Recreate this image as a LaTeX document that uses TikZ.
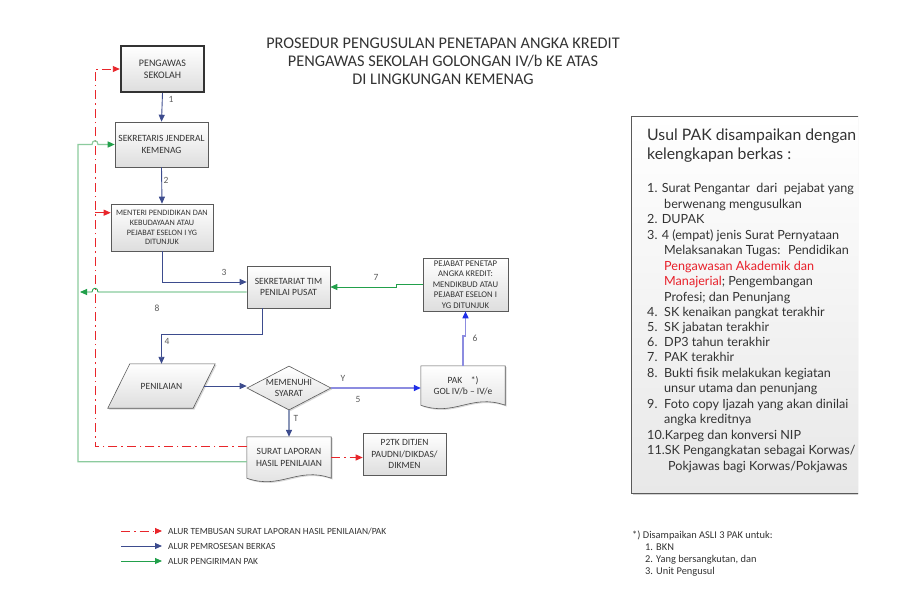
\documentclass[tikz,border=0pt]{standalone}
\usepackage{fontspec}
\setmainfont{Carlito}
\newfontfamily\panelfont{Lato}
\usetikzlibrary{arrows.meta,calc,shapes.geometric,shadows,backgrounds}
\definecolor{ProcBlue}{HTML}{3D4C8E}
\definecolor{ProcLight}{HTML}{8C8CE0}
\definecolor{ProcHead}{HTML}{1F2FE8}
\definecolor{ProcGray}{HTML}{8A96B8}
\definecolor{KirimGreen}{HTML}{22A04B}
\definecolor{KirimPale}{HTML}{8CCB9E}
\definecolor{TembusRed}{HTML}{E8262B}
\definecolor{BoxLine}{HTML}{5A5A5A}
\definecolor{TextGray}{HTML}{333333}
\definecolor{PanelRed}{HTML}{E8202A}

\tikzset{
  box/.style={draw=BoxLine, line width=0.6pt, top color=white, bottom color=black!13,
    align=center, text=TextGray, inner sep=1pt,
    drop shadow={shadow xshift=1.3pt,shadow yshift=-1.3pt,opacity=.3}},
  txtnine/.style={font=\fontsize{9.5}{11.5}\selectfont},
  txteight/.style={font=\fontsize{8.7}{10.4}\selectfont},
  txtseven/.style={font=\fontsize{8.2}{9.8}\selectfont},
  numtext/.style={font=\fontsize{9.5}{10}\selectfont, text=TextGray!80},
  titletext/.style={font=\fontsize{16.3}{18}\selectfont, align=center, text=TextGray},
  legendtext/.style={font=\fontsize{9.4}{10}\selectfont, text=TextGray, anchor=west, inner sep=0pt},
  tip/.style={-{Triangle[length=7pt,width=6pt]}},
  proses/.style={tip, draw=ProcBlue, line width=0.9pt},
  proseslight/.style={-{Triangle[length=7pt,width=6pt,color=ProcHead]}, draw=ProcLight, line width=1.5pt},
  prosesgray/.style={-{Triangle[length=7pt,width=6pt,color=ProcBlue]}, draw=ProcGray, line width=1.3pt},
  kirim/.style={tip, draw=KirimGreen, line width=0.9pt},
  kirimpale/.style={-{Triangle[length=7pt,width=6pt,color=KirimGreen]}, draw=KirimPale, line width=1.2pt},
  tembusan/.style={tip, draw=TembusRed, line width=0.9pt,
    dash pattern=on 9pt off 4pt on 1.5pt off 4pt},
  paneltext/.style={font=\panelfont\fontsize{12.6}{15}\selectfont, text=TextGray,
    anchor=west, inner sep=0pt, text height=9pt, text depth=3pt},
  panelhead/.style={paneltext, font=\panelfont\fontsize{15.8}{18}\selectfont},
}

% document shape with wavy bottom, drawn behind the node
\newcommand{\docwave}[1]{%
  \shade[box] (#1.north west) -- (#1.north east) -- (#1.south east)
    .. controls +(-34,-12) and +(34,12) .. (#1.south west) -- cycle;}

\begin{document}
\begin{tikzpicture}[x=1pt,y=-1pt]
  \useasboundingbox (0,0) rectangle (900,600);
  \begin{scope}[on background layer]
    \fill[white] (0,0) rectangle (900,600);
  \end{scope}

  % title
  \node[titletext] (judul) at (443,61)
    {PROSEDUR PENGUSULAN PENETAPAN ANGKA KREDIT\\PENGAWAS SEKOLAH GOLONGAN IV/b KE ATAS\\DI LINGKUNGAN KEMENAG};

  % process boxes
  \node[box, font=\fontsize{10}{12}\selectfont, minimum width=83, minimum height=46, line width=2.4pt, draw=black!80]
    (pengawas) at (162.5,69) {PENGAWAS\\SEKOLAH};
  \node[box, txtnine, minimum width=93, minimum height=45] (sekjen) at (161.5,144.5)
    {SEKRETARIS JENDERAL\\KEMENAG};
  \node[box, txtseven, minimum width=102, minimum height=47] (menteri) at (162,227.5)
    {MENTERI PENDIDIKAN DAN\\KEBUDAYAAN ATAU\\PEJABAT ESELON I YG\\DITUNJUK};
  \node[box, txtnine, minimum width=83, minimum height=42] (sekr) at (288.5,287)
    {SEKRETARIAT TIM\\PENILAI PUSAT};
  \node[box, txteight, minimum width=85, minimum height=53] (pejabat) at (465.5,284.5)
    {PEJABAT PENETAP\\ANGKA KREDIT:\\MENDIKBUD ATAU\\PEJABAT ESELON I\\YG DITUNJUK};
  \node[txtnine, text=TextGray, minimum width=107, minimum height=44] (nilai) at (161.5,386) {PENILAIAN};
  \node[box, txtnine, diamond, aspect=1.9, minimum width=84, minimum height=44, inner sep=0pt]
    (syarat) at (289,388) {MEMENUHI\\SYARAT};
  \node[txtnine, text=TextGray, align=center, minimum width=84, minimum height=39] (pak) at (463,385.5)
    {PAK~~~~*)\\GOL IV/b -- IV/e};
  \node[txtnine, text=TextGray, align=center, minimum width=84, minimum height=41] (surat) at (289,457.5)
    {SURAT LAPORAN\\HASIL PENILAIAN};
  \node[box, txtnine, minimum width=83, minimum height=42] (p2tk) at (404.5,454)
    {P2TK DITJEN\\PAUDNI/DIKDAS/\\DIKMEN};

  \begin{scope}[on background layer]
    \shade[box] ($(nilai.north west)+(22,0)$) -- (nilai.north east)
      -- ($(nilai.south east)+(-22,0)$) -- (nilai.south west) -- cycle;
    \docwave{pak}
    \docwave{surat}
  \end{scope}

  \coordinate (gx) at (78,0);
  \coordinate (rx) at (95,0);

  % tembusan (red)
  \draw[tembusan] ($(surat.north west)+(0,10)$) -| (rx |- pengawas.west) -- (pengawas.west);
  \draw[tembusan] ($(rx |- menteri.north west)+(0,9)$) -- ($(menteri.north west)+(0,9)$);
  \draw[tembusan] (surat.east) -- (surat.east -| p2tk.west);

  % pemrosesan (blue)
  \draw[proses] (pengawas.south) -- (sekjen.north);
  \draw[proses] (sekjen.south) -- (menteri.north);
  \draw[proses] (menteri.south) |- ($(sekr.west)+(0,-5)$);
  \draw[proses] ($(sekr.south)+(-26,0)$) -- ++(0,26) -| (nilai.north);
  \draw[proses] ($(nilai.east)+(-11,0)$) -- (nilai.east -| syarat.west);
  \draw[proseslight] (syarat.east) -- (syarat.east -| pak.west);
  \draw[proseslight] (pak.north) -- ++(0,-30) -| (pejabat.south);
  \draw[prosesgray] (syarat.south) -- (surat.north);

  % pengiriman (green)
  \draw[kirim] (pejabat.west) -- ++(-26,0) |- (sekr.east);
  \draw[kirim] ($(sekr.west)+(0,5)$) -- ($(rx |- sekr.west)+(3,5)$)
    .. controls +(0,-5) and +(0,-5) .. ($(rx |- sekr.west)+(-3,5)$) -- ($(gx |- sekr.west)+(2,5)$);
  \draw[kirimpale] ($(surat.north west)+(0,25)$) -| (gx |- sekjen.west)
    -- ($(rx |- sekjen.west)+(-3,0)$) .. controls +(0,-5) and +(0,-5) .. ($(rx |- sekjen.west)+(3,0)$)
    -- (sekjen.west);

  % step numbers
  \node[numtext] (n1) at (171,99) {1};
  \node[numtext] (n2) at (166,180) {2};
  \node[numtext] (n3) at (224,272) {3};
  \node[numtext] (n4) at (167,341) {4};
  \node[numtext] (n5) at (358,399) {5};
  \node[numtext] (n6) at (475,338) {6};
  \node[numtext] (n7) at (376,277) {7};
  \node[numtext] (n8) at (157,308) {8};
  \node[numtext] (ny) at (343,378) {Y};
  \node[numtext] (nt) at (296,418) {T};

  % legend
  \coordinate (la1) at (121,531);
  \coordinate (lb1) at (162,531);
  \coordinate (la2) at (121,546);
  \coordinate (lb2) at (162,546);
  \coordinate (la3) at (121,561);
  \coordinate (lb3) at (162,561);
  \draw[tembusan] (la1) -- (lb1);
  \draw[proses] (la2) -- (lb2);
  \draw[kirim] (la3) -- (lb3);
  \node[legendtext] (leg1) at (168,531) {ALUR TEMBUSAN SURAT LAPORAN HASIL PENILAIAN/PAK};
  \node[legendtext] (leg2) at (168,546) {ALUR PEMROSESAN BERKAS};
  \node[legendtext] (leg3) at (168,561) {ALUR PENGIRIMAN PAK};

  % footnote
  \node[font=\fontsize{10.4}{12}\selectfont, text=TextGray, align=left, anchor=north west, inner sep=0pt]
    (catatan) at (632,531)
    {*) Disampaikan ASLI 3 PAK untuk:\\\hspace{13pt}1. BKN\\\hspace{13pt}2. Yang bersangkutan, dan\\\hspace{13pt}3. Unit Pengusul};

  % requirement panel (cut off at the right edge)
  \begin{scope}
    \clip (0,0) rectangle (858,600);
    \shade[top color=white, bottom color=black!9, draw=BoxLine, line width=0.8pt,
      drop shadow={shadow xshift=1.5pt,shadow yshift=-1.5pt,opacity=.35}] (631,116) rectangle (890,493);
    \node[panelhead] (h1) at (647,137) {Usul PAK disampaikan dengan};
    \node[panelhead] (h2) at (647,156) {kelengkapan berkas :};
    \node[paneltext] (p1) at (647,189) {1. Surat Pengantar~ dari~ pejabat yang};
    \node[paneltext] (p2) at (664,205) {berwenang mengusulkan};
    \node[paneltext] (p3) at (647,220) {2. DUPAK};
    \node[paneltext] (p4) at (647,236) {3. 4 (empat) jenis Surat Pernyataan};
    \node[paneltext] (p5) at (664,251) {Melaksanakan Tugas:~ Pendidikan};
    \node[paneltext, text=PanelRed] (p6) at (664,267) {Pengawasan Akademik dan};
    \node[paneltext] (p7) at (664,282) {\textcolor{PanelRed}{Manajerial}; Pengembangan};
    \node[paneltext] (p8) at (664,298) {Profesi; dan Penunjang};
    \node[paneltext] (p9) at (647,313) {\makebox[17pt][l]{4.}SK kenaikan pangkat terakhir};
    \node[paneltext] (p10) at (647,328) {\makebox[17pt][l]{5.}SK jabatan terakhir};
    \node[paneltext] (p11) at (647,343) {\makebox[17pt][l]{6.}DP3 tahun terakhir};
    \node[paneltext] (p12) at (647,358) {\makebox[17pt][l]{7.}PAK terakhir};
    \node[paneltext] (p13) at (647,374) {\makebox[17pt][l]{8.}Bukti fisik melakukan kegiatan};
    \node[paneltext] (p14) at (664,389) {unsur utama dan penunjang};
    \node[paneltext] (p15) at (647,405) {\makebox[17pt][l]{9.}Foto copy Ijazah yang akan dinilai};
    \node[paneltext] (p16) at (664,420) {angka kreditnya};
    \node[paneltext] (p17) at (647,436) {10.Karpeg dan konversi NIP};
    \node[paneltext] (p18) at (647,451) {11.SK Pengangkatan sebagai Korwas/};
    \node[paneltext] (p19) at (668,467) {Pokjawas bagi Korwas/Pokjawas};
  \end{scope}
\end{tikzpicture}
\end{document}
